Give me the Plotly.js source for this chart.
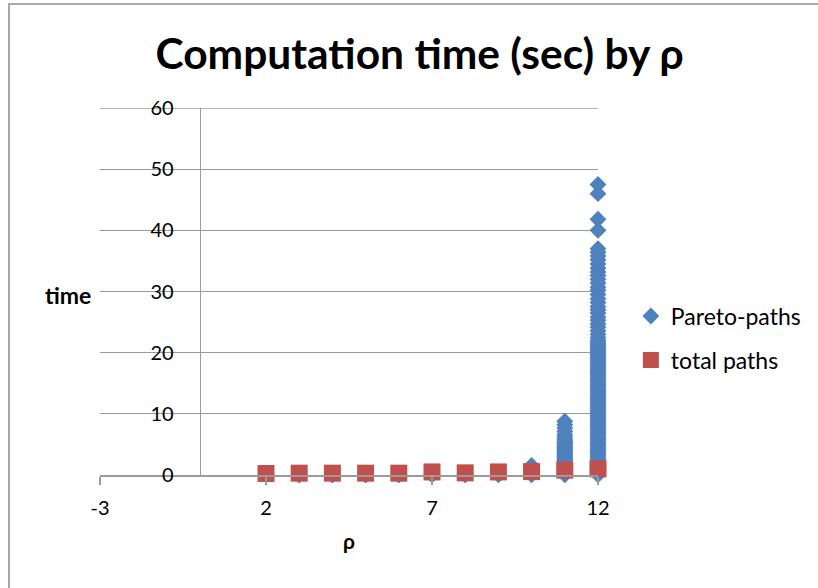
<!DOCTYPE html>
<html>
<head>
<meta charset="utf-8">
<script src="https://cdn.plot.ly/plotly-3.0.1.min.js"></script>
<style>
  html, body { margin:0; padding:0; overflow:hidden; background:#fff; }
  #frame { position:absolute; left:8px; top:3px; width:900px; height:700px; border:2px solid #a8a8a8; box-sizing:border-box; }
  #chart { position:absolute; left:0; top:0; width:818px; height:588px; }
</style>
</head>
<body>
<div id="frame"></div>
<div id="chart"></div>
<script>
// ---- data ----
const rhoValues = [2, 3, 4, 5, 6, 7, 8, 9, 10, 11, 12];

// Pareto-paths computation times (sec), per rho
const pareto2  = [0.02, 0.04, 0.06];
const pareto3  = [0.02, 0.04, 0.07];
const pareto4  = [0.02, 0.05, 0.08];
const pareto5  = [0.02, 0.05, 0.09];
const pareto6  = [0.02, 0.06, 0.1];
const pareto7  = [0.03, 0.08, 0.15];
const pareto8  = [0.03, 0.08, 0.15];
const pareto9  = [0.03, 0.1, 0.2];
const pareto10 = [0.05, 0.2, 0.4, 0.7, 1.0, 1.3, 1.55];
const pareto11 = [0.05, 0.15, 0.3, 0.5, 0.7, 0.9, 1.1, 1.3, 1.5, 1.7, 1.9, 2.1, 2.3, 2.5, 2.7, 2.9, 3.1, 3.3, 3.5, 3.7, 3.9, 4.1, 4.3, 4.5, 4.7, 4.9, 5.1, 5.3, 5.5, 5.8, 6.2, 6.6, 7.1, 7.7, 8.2, 8.8];
const pareto12 = [0.05, 0.2, 0.4, 0.6, 0.8, 1.0, 1.3, 1.6, 1.9, 2.2, 2.5, 2.8, 3.1, 3.4, 3.7, 4.0, 4.3, 4.6, 4.9, 5.2, 5.5, 5.8, 6.1, 6.4, 6.7, 7.0, 7.3, 7.6, 7.9, 8.2, 8.5, 8.8, 9.1, 9.4, 9.7, 10.0, 10.3, 10.6, 10.9, 11.2, 11.5, 11.8, 12.1, 12.4, 12.7, 13.0, 13.3, 13.6, 13.9, 14.2, 14.5, 14.8, 15.1, 15.4, 15.7, 16.0, 16.3, 16.6, 16.9, 17.2, 17.5, 17.8, 18.1, 18.4, 18.7, 19.0, 19.3, 19.6, 19.9, 20.2, 20.5, 20.8, 21.1, 21.4, 21.7, 22.0, 22.5, 23.0, 23.6, 24.2, 24.7, 25.3, 25.8, 26.5, 27.0, 27.5, 28.2, 28.8, 29.5, 30.2, 30.7, 31.4, 32.0, 32.6, 33.2, 33.8, 34.5, 35.2, 35.8, 36.4, 37.0, 40.0, 41.8, 46.0, 47.5];

// total paths computation times (sec), one per rho
const totalPaths = [0.25, 0.3, 0.3, 0.3, 0.3, 0.5, 0.35, 0.5, 0.55, 0.8, 1.0];

const xTicks = [-3, 2, 7, 12];
const yTicks = [0, 10, 20, 30, 40, 50, 60];

// ---- build the Pareto series ----
const paretoByRho = [pareto2, pareto3, pareto4, pareto5, pareto6, pareto7, pareto8, pareto9, pareto10, pareto11, pareto12];
const paretoX = [], paretoY = [];
paretoByRho.forEach((vals, i) => {
  vals.forEach(v => { paretoX.push(rhoValues[i]); paretoY.push(v); });
});

const blue = '#4f81bd';
const red = '#c0504d';
const gray = '#9a9a9a';
const font = 'Lato, "Open Sans", sans-serif';

const traces = [
  {
    type: 'scatter', mode: 'markers', name: 'Pareto-paths',
    x: paretoX, y: paretoY, cliponaxis: false,
    legendgroup: 'a',
    marker: { symbol: 'diamond', size: 13, color: blue }
  },
  {
    type: 'scatter', mode: 'markers', name: 'total paths',
    x: rhoValues, y: totalPaths, cliponaxis: false,
    legendgroup: 'b',
    marker: { symbol: 'square', size: 17, color: red }
  }
];

const layout = {
  width: 818, height: 588,
  paper_bgcolor: 'rgba(0,0,0,0)', plot_bgcolor: 'rgba(0,0,0,0)',
  margin: { l: 100, r: 218, t: 108, b: 113 },
  font: { family: font, color: '#000', size: 20 },
  title: {
    text: '<b>Computation time (sec) by ρ</b>',
    font: { family: font, size: 42.5, color: '#000' },
    xref: 'container', yref: 'container',
    x: 0.513, xanchor: 'center', y: 0.908, yanchor: 'middle'
  },
  xaxis: {
    range: [-3, 12], tickvals: xTicks, ticktext: xTicks.map(String),
    showgrid: false, zeroline: false,
    showline: true, linecolor: gray, linewidth: 1.5,
    ticks: 'outside', ticklen: 8, tickcolor: gray, tickwidth: 1.5,
    ticklabelstandoff: 6,
    tickfont: { family: font, size: 20, color: '#000' },
    title: { text: '<b>ρ</b>', font: { family: font, size: 21, color: '#000' }, standoff: 17 }
  },
  yaxis: {
    range: [0, 60], tickvals: yTicks, ticktext: yTicks.map(String),
    anchor: 'free', position: 0.2,
    showgrid: true, gridcolor: gray, gridwidth: 1.3,
    zeroline: false,
    showline: true, linecolor: gray, linewidth: 1.5,
    ticks: '', ticklabelstandoff: 22,
    tickfont: { family: font, size: 20, color: '#000' }
  },
  shapes: [
    { type: 'line', xref: 'x', yref: 'y', x0: -3, x1: 12, y0: 60, y1: 60,
      line: { color: gray, width: 1.3 }, layer: 'below' }
  ],
  showlegend: true,
  legend: {
    x: 1.066, xanchor: 'left', y: 0.373, yanchor: 'middle',
    font: { family: font, size: 23, color: '#000' },
    traceorder: 'grouped', tracegroupgap: 11,
    bgcolor: 'rgba(0,0,0,0)', itemwidth: 30
  },
  annotations: [
    {
      text: '<b>time</b>', xref: 'paper', yref: 'paper',
      x: -0.064, y: 0.4905, xanchor: 'center', yanchor: 'middle',
      showarrow: false, font: { family: font, size: 23, color: '#000' }
    }
  ]
};

Plotly.newPlot('chart', traces, layout, { displayModeBar: false, staticPlot: true });
</script>
</body>
</html>
